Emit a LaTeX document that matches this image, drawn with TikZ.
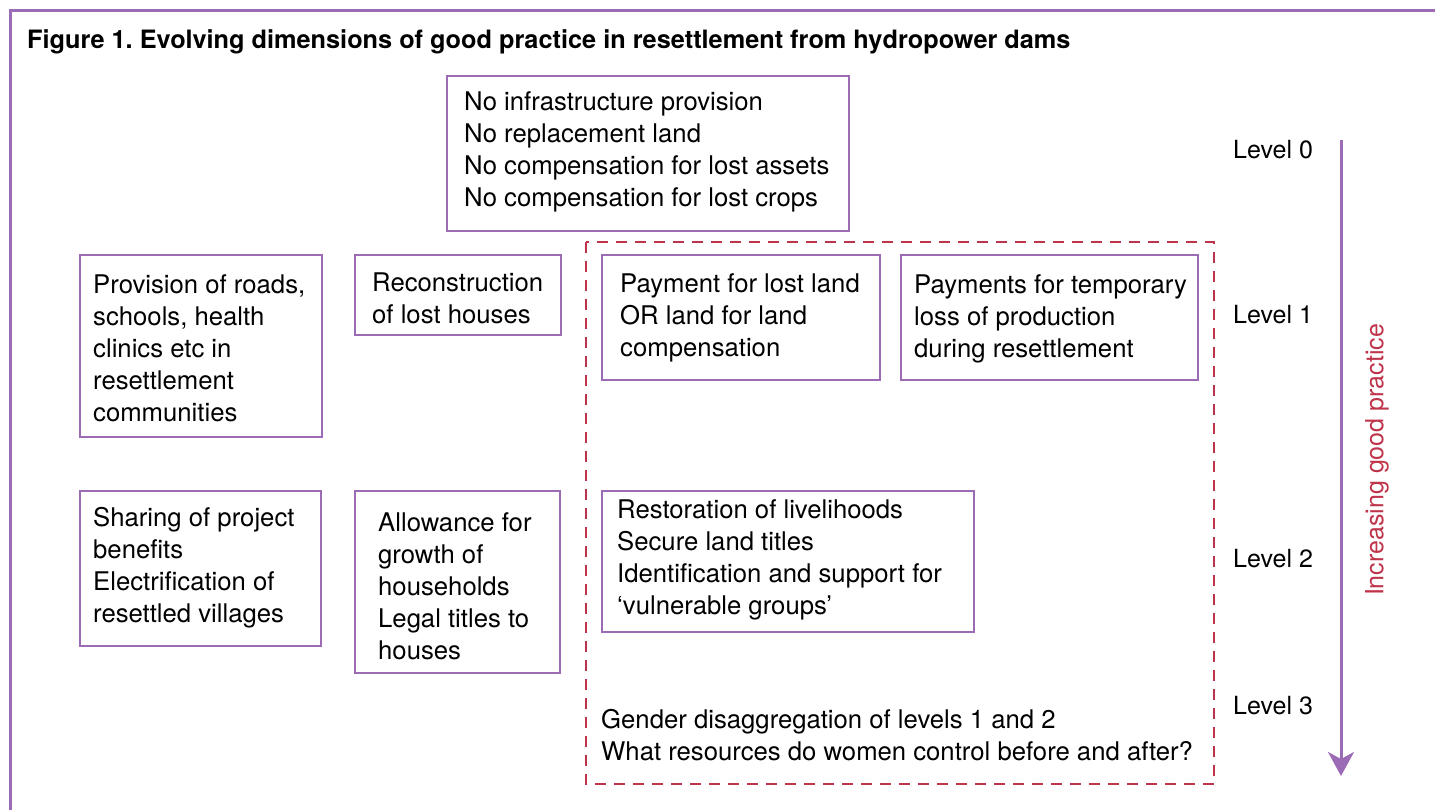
\documentclass[tikz,border=0pt]{standalone}
\usepackage{fontspec}
\setmainfont{TeX Gyre Heros}
\usetikzlibrary{arrows.meta}
\definecolor{fpurple}{RGB}{155,107,182}
\definecolor{fred}{RGB}{190,52,74}
\frenchspacing
\tikzset{
  box/.style={draw=fpurple, line width=2.2pt, anchor=north west, inner sep=0pt},
  txt/.style={anchor=west, align=left, inner sep=0pt, font=\fontsize{25.7}{32}\selectfont},
  lvl/.style={anchor=west, inner sep=0pt, font=\fontsize{25}{32}\selectfont},
}
\begin{document}
\begin{tikzpicture}[x=1pt,y=-1pt]
\useasboundingbox (0,0) rectangle (1435,810);
% outer frame
\draw[fpurple, line width=3pt] (10,810) -- (10,11) -- (1435,11);
\node[anchor=west, inner sep=0pt, font=\fontsize{25.3}{30}\selectfont\bfseries] (title) at (27,42)
  {Figure 1. Evolving dimensions of good practice in resettlement from hydropower dams};
% dashed region
\draw[fred, line width=2.2pt, dash pattern=on 11pt off 8pt] (586,242) rectangle (1214,784);
% boxes
\node[box, minimum width=402pt, minimum height=155pt] (top) at (446,75) {};
\node[txt] (top-t) at (464,152) {No infrastructure provision\\No replacement land\\No compensation for lost assets\\No compensation for lost crops};
\node[box, minimum width=242pt, minimum height=182pt] (a) at (79,254) {};
\node[txt] (a-t) at (93,348) {Provision of roads,\\schools, health\\clinics etc in\\resettlement\\communities};
\node[box, minimum width=206pt, minimum height=80pt] (b) at (354,254) {};
\node[txt] (b-t) at (372,298) {Reconstruction\\of lost houses};
\node[box, minimum width=278pt, minimum height=125pt] (c) at (601,254) {};
\node[txt] (c-t) at (620,318) {Payment for lost land\\OR land for land\\compensation};
\node[box, minimum width=297pt, minimum height=125pt] (d) at (900,254) {};
\node[txt] (d-t) at (914,319) {Payments for temporary\\loss of production\\during resettlement};
\node[box, minimum width=241pt, minimum height=155pt] (e) at (79,490) {};
\node[txt] (e-t) at (93,568) {Sharing of project\\benefits\\Electrification of\\resettled villages};
\node[box, minimum width=205pt, minimum height=182pt] (f) at (354,490) {};
\node[txt] (f-t) at (378,586) {Allowance for\\growth of\\households\\Legal titles to\\houses};
\node[box, minimum width=372pt, minimum height=141pt] (g) at (601,490) {};
\node[txt] (g-t) at (617,560) {Restoration of livelihoods\\Secure land titles\\Identification and support for\\‘vulnerable groups’};
\node[txt] (h-t) at (601,735) {Gender disaggregation of levels 1 and 2\\What resources do women control before and after?};
% levels
\node[lvl] (l0) at (1233,150) {Level 0};
\node[lvl] (l1) at (1233,315) {Level 1};
\node[lvl] (l2) at (1233,559) {Level 2};
\node[lvl] (l3) at (1233,706) {Level 3};
% arrow
\coordinate (as) at (1341,140);
\coordinate (ae) at (1341,776);
\draw[fpurple, line width=3pt, -{Stealth[length=24pt, width=26pt, inset=7pt]}] (as) -- (ae);
\node[rotate=90, inner sep=0pt, text=fred, font=\fontsize{25}{32}\selectfont] (inc) at (1377,460) {Increasing good practice};
\end{tikzpicture}
\end{document}
